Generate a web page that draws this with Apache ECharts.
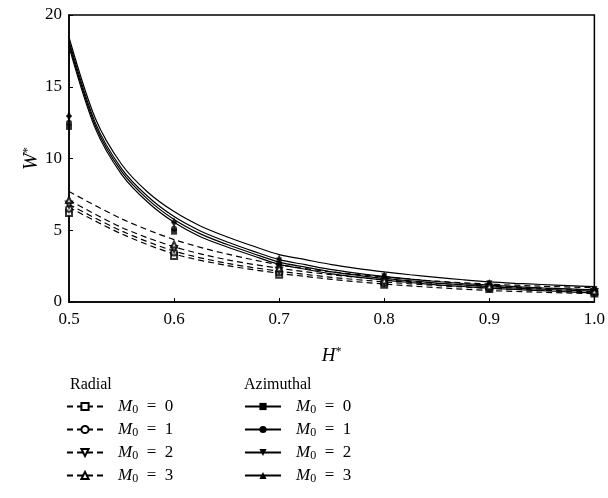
<!DOCTYPE html>
<html>
<head>
<meta charset="utf-8">
<script src="https://cdn.jsdelivr.net/npm/echarts@6/dist/echarts.min.js"></script>
<style>html,body{margin:0;padding:0;background:#fff}#c{width:608px;height:498px}</style>
</head>
<body>
<div id="c"></div>
<script>
// Azimuthal curves (solid)
var azX = [0.5, 0.525, 0.55, 0.575, 0.6, 0.625, 0.65, 0.675, 0.7, 0.725, 0.75, 0.775, 0.8, 0.825, 0.85, 0.875, 0.9, 0.925, 0.95, 0.975, 1.0];
var azCurve0 = [17.8, 12.1, 8.9, 6.95, 5.55, 4.55, 3.85, 3.22, 2.62, 2.28, 1.96, 1.73, 1.53, 1.36, 1.2, 1.08, 0.97, 0.87, 0.79, 0.71, 0.63];
var azCurve1 = [18.0, 12.3, 9.1, 7.15, 5.75, 4.75, 4.02, 3.38, 2.78, 2.43, 2.1, 1.86, 1.65, 1.48, 1.32, 1.19, 1.07, 0.97, 0.89, 0.82, 0.75];
var azCurve2 = [18.2, 12.5, 9.3, 7.35, 5.95, 4.95, 4.2, 3.55, 2.95, 2.6, 2.25, 2.0, 1.78, 1.6, 1.43, 1.29, 1.17, 1.07, 0.98, 0.91, 0.85];
var azCurve3 = [18.45, 12.8, 9.6, 7.65, 6.3, 5.3, 4.55, 3.9, 3.3, 2.95, 2.6, 2.33, 2.1, 1.9, 1.72, 1.55, 1.4, 1.3, 1.22, 1.14, 1.07];
// Radial curves (dashed)
var raX = [0.5, 0.55, 0.6, 0.65, 0.7, 0.75, 0.8, 0.85, 0.9, 0.95, 1.0];
var raCurve0 = [6.6, 4.75, 3.35, 2.55, 2.0, 1.58, 1.25, 1.0, 0.8, 0.68, 0.58];
var raCurve1 = [6.8, 4.95, 3.55, 2.7, 2.15, 1.72, 1.4, 1.15, 0.95, 0.82, 0.7];
var raCurve2 = [7.1, 5.2, 3.85, 2.95, 2.35, 1.9, 1.55, 1.3, 1.1, 0.95, 0.85];
var raCurve3 = [7.7, 5.8, 4.35, 3.35, 2.6, 2.1, 1.75, 1.45, 1.25, 1.1, 1.0];
// Data points (markers)
var ptX = [0.5, 0.6, 0.7, 0.8, 0.9, 1.0];
var azPts0 = [12.2, 4.9, 2.5, 1.6, 1.1, 0.8];
var azPts1 = [12.5, 5.1, 2.7, 1.7, 1.2, 0.85];
var azPts2 = [12.8, 5.4, 2.9, 1.8, 1.3, 0.9];
var azPts3 = [13.1, 5.7, 3.1, 1.95, 1.4, 0.95];
var raPts0 = [6.2, 3.2, 1.9, 1.2, 0.9, 0.6];
var raPts1 = [6.5, 3.45, 2.05, 1.3, 0.95, 0.65];
var raPts2 = [6.8, 3.7, 2.2, 1.4, 1.0, 0.7];
var raPts3 = [7.1, 4.0, 2.35, 1.5, 1.1, 0.75];
var xTicks = ['0.5', '0.6', '0.7', '0.8', '0.9', '1.0'];
var legendHeads = ['Radial', 'Azimuthal'];
var m0Values = ['0', '1', '2', '3'];

function pairs(xs, ys) { return xs.map(function (x, i) { return [x, ys[i]]; }); }

var FONT = '"Liberation Serif", "DejaVu Serif", serif';
var azCurves = [azCurve0, azCurve1, azCurve2, azCurve3];
var raCurves = [raCurve0, raCurve1, raCurve2, raCurve3];
var azPts = [azPts0, azPts1, azPts2, azPts3];
var raPts = [raPts0, raPts1, raPts2, raPts3];
var azSym = ['rect', 'circle', 'triangle', 'triangle'];
var raSym = ['emptyRect', 'emptyCircle', 'emptyTriangle', 'emptyTriangle'];
var symRot = [0, 0, 180, 0];

var series = [];
var raNames = [], azNames = [];
for (var k = 0; k < 4; k++) {
  var rn = 'r' + k, an = 'a' + k;
  raNames.push(rn); azNames.push(an);
  series.push({
    name: rn, type: 'line', data: pairs(raX, raCurves[k]), smooth: 0.3,
    showSymbol: false, symbol: raSym[k], symbolRotate: symRot[k], symbolSize: 6,
    lineStyle: { color: '#000', width: 1.2, type: [6, 4] }, itemStyle: { color: '#000' },
    clip: true, silent: true, z: 2
  });
}
for (var k = 0; k < 4; k++) {
  series.push({
    name: 'a' + k, type: 'line', data: pairs(azX, azCurves[k]), smooth: 0.3,
    showSymbol: false, symbol: azSym[k], symbolRotate: symRot[k], symbolSize: 6,
    lineStyle: { color: '#000', width: 1.2, type: 'solid' }, itemStyle: { color: '#000' },
    clip: true, silent: true, z: 2
  });
}
for (var k = 0; k < 4; k++) {
  series.push({
    name: 'rp' + k, type: 'scatter', data: pairs(ptX, raPts[k]), symbol: raSym[k], symbolRotate: symRot[k],
    symbolSize: 6, itemStyle: { color: '#000', borderColor: '#000', borderWidth: 1 }, clip: false, silent: true, z: 3
  });
  series.push({
    name: 'ap' + k, type: 'scatter', data: pairs(ptX, azPts[k]), symbol: azSym[k], symbolRotate: symRot[k],
    symbolSize: 6, itemStyle: { color: '#000' }, clip: false, silent: true, z: 3
  });
}

var legendRich = {
  i: { fontFamily: FONT, fontStyle: 'italic', fontSize: 17, color: '#000', lineHeight: 19, padding: [0, 0, 0, 10] },
  s: { fontFamily: FONT, fontSize: 12, color: '#000', verticalAlign: 'bottom', lineHeight: 19, padding: [6, 0, 0, 0] },
  t: { fontFamily: FONT, fontSize: 17, color: '#000', lineHeight: 19 }
};
function legendFmt(name) {
  return '{i|M}{s|0}{t|  =  ' + m0Values[+name.slice(1)] + '}';
}

var chart = echarts.init(document.getElementById('c'), null, { renderer: 'canvas' });
chart.setOption({
  animation: false,
  backgroundColor: '#fff',
  grid: { left: 69, right: 13, top: 15, bottom: 196, show: true, borderColor: '#000', borderWidth: 1.5, backgroundColor: 'transparent' },
  xAxis: {
    type: 'value', min: 0.5, max: 1.0, interval: 0.1,
    name: '{i|H}{s|*}', nameLocation: 'middle', nameGap: 44,
    nameTextStyle: { rich: { i: { fontFamily: FONT, fontStyle: 'italic', fontSize: 19, color: '#000' }, s: { fontFamily: FONT, fontSize: 12, color: '#000', verticalAlign: 'top', padding: [0, 0, 8, 0] } } },
    axisLine: { lineStyle: { color: '#000', width: 1.5 } },
    axisTick: { inside: true, length: 4, lineStyle: { color: '#000', width: 1 } },
    axisLabel: { color: '#000', fontFamily: FONT, fontSize: 17, margin: 9, formatter: function (v) { var i = Math.round((v - 0.5) / 0.1); return xTicks[i]; } },
    splitLine: { show: false }
  },
  yAxis: {
    type: 'value', min: 0, max: 20, interval: 5,
    name: '{i|W}{s|*}', nameLocation: 'middle', nameGap: 27, nameRotate: 90, nameMoveOverlap: false,
    nameTextStyle: { rich: { i: { fontFamily: FONT, fontStyle: 'italic', fontSize: 20, color: '#000' }, s: { fontFamily: FONT, fontSize: 13, color: '#000', verticalAlign: 'top', padding: [0, 0, 8, 0] } } },
    axisLine: { lineStyle: { color: '#000', width: 1.5 } },
    axisTick: { inside: true, length: 4, lineStyle: { color: '#000', width: 1 } },
    axisLabel: { color: '#000', fontFamily: FONT, fontSize: 17, margin: 7 },
    splitLine: { show: false }
  },
  title: [
    { text: legendHeads[0], left: 70, top: 377, textStyle: { fontFamily: FONT, fontSize: 16, fontWeight: 'normal', color: '#000' }, padding: 0 },
    { text: legendHeads[1], left: 244, top: 377, textStyle: { fontFamily: FONT, fontSize: 16, fontWeight: 'normal', color: '#000' }, padding: 0 }
  ],
  legend: [
    { data: raNames, orient: 'vertical', left: 66, top: 398, itemWidth: 36, itemHeight: 9, itemGap: 5, padding: 0,
      formatter: legendFmt, textStyle: { rich: legendRich }, selectedMode: false },
    { data: azNames, orient: 'vertical', left: 244, top: 398, itemWidth: 36, itemHeight: 9, itemGap: 5, padding: 0,
      formatter: legendFmt, textStyle: { rich: legendRich }, selectedMode: false }
  ],
  series: series
});
</script>
</body>
</html>
